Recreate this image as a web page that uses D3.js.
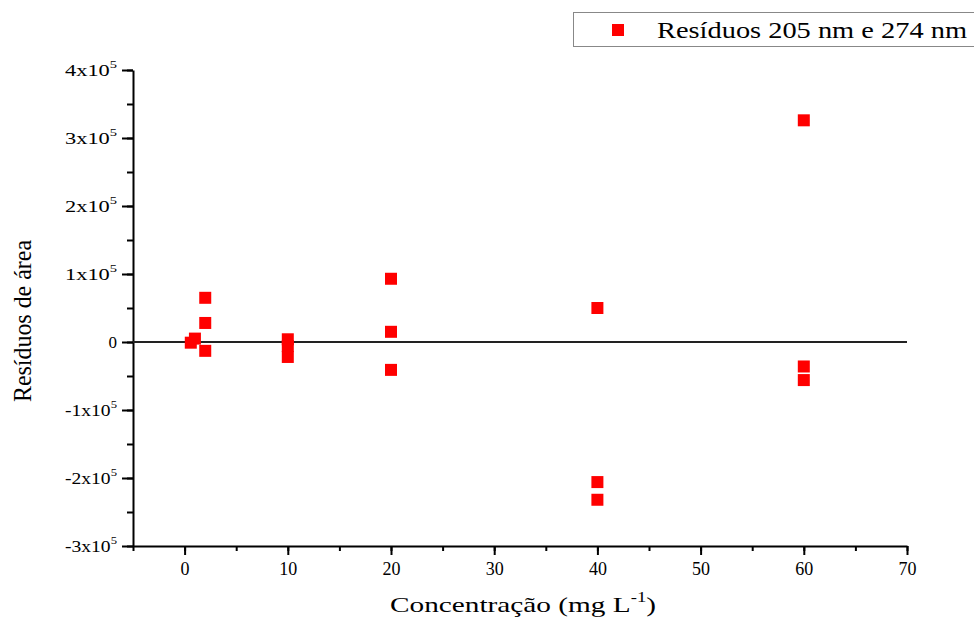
<!DOCTYPE html>
<html>
<head>
<meta charset="utf-8">
<script src="https://cdn.jsdelivr.net/npm/d3@7"></script>
<style>
  body { margin: 0; background: #fff; }
  svg { display: block; }
  svg text { font-family: "Liberation Serif", "DejaVu Serif", "Times New Roman", serif; fill: #000; }
</style>
</head>
<body>
<svg width="974" height="621"></svg>
<script>
// Residues by concentration (mg/L)
const concentrations = [0.6, 1, 2, 2, 2, 10, 10, 10, 20, 20, 20, 40, 40, 40, 60, 60, 60];
const residues = [-1000, 5000, 65000, 28000, -13000, 4000, -6000, -22000,
    93000, 15000, -41000, 50000, -206000, -232000, 326000, -36000, -56000];
const xTicks = [0, 10, 20, 30, 40, 50, 60, 70];
const yTicks = [-3, -2, -1, 0, 1, 2, 3, 4]; // x10^5
const seriesName = "Resíduos 205 nm e 274 nm";

const svg = d3.select("svg");
const serif = "Liberation Serif, DejaVu Serif, serif";

const x = d3.scaleLinear().domain([-5, 70]).range([133, 907]);
const y = d3.scaleLinear().domain([-3e5, 4e5]).range([546, 70]);

// minor ticks
svg.append("g")
    .attr("transform", `translate(0,${y(-3e5)})`)
    .call(d3.axisBottom(x).tickValues(d3.range(-5, 71, 5)).tickSize(5).tickFormat(""))
    .call(g => g.select(".domain").remove());
svg.append("g")
    .attr("transform", `translate(${x(-5)},0)`)
    .call(d3.axisLeft(y).tickValues(d3.range(-3e5, 4.01e5, 0.5e5)).tickSize(6).tickFormat(""))
    .call(g => g.select(".domain").remove());

// x axis
const xAxis = svg.append("g")
    .attr("transform", `translate(0,${y(-3e5)})`)
    .call(d3.axisBottom(x).tickValues(xTicks).tickSize(9).tickSizeOuter(0).tickPadding(7));
xAxis.attr("font-family", serif);
xAxis.selectAll("text").attr("font-size", 18);

// y axis
const yAxis = svg.append("g")
    .attr("transform", `translate(${x(-5)},0)`)
    .call(d3.axisLeft(y).tickValues(yTicks.map(d => d * 1e5)).tickSize(11).tickSizeOuter(0).tickFormat(""));
yAxis.attr("font-family", serif);
yAxis.selectAll(".tick").each(function(d) {
    const t = d3.select(this).append("text")
        .attr("x", -16).attr("dy", "0.35em")
        .attr("text-anchor", "end")
        .attr("font-size", 17);
    const v = Math.round(d / 1e5);
    if (v === 0) { t.text("0"); return; }
    t.attr("textLength", 52).attr("lengthAdjust", "spacingAndGlyphs");
    t.append("tspan").text(v + "x10");
    t.append("tspan").attr("font-size", 11).attr("dy", -8).text("5");
});
svg.selectAll(".domain, .tick line").attr("stroke", "#000").attr("stroke-width", 2);

// zero line
svg.append("line")
    .attr("x1", x(-5)).attr("x2", x(70))
    .attr("y1", y(0)).attr("y2", y(0))
    .attr("stroke", "#222").attr("stroke-width", 2);

// points
const pts = concentrations.map((c, i) => ({ c, r: residues[i] }));
const sq = 12;
svg.append("g").selectAll("rect")
    .data(pts)
    .join("rect")
    .attr("x", d => x(d.c) - sq / 2)
    .attr("y", d => y(d.r) - sq / 2)
    .attr("width", sq).attr("height", sq)
    .attr("fill", "#ff0000");

// axis titles
svg.append("text")
    .attr("transform", `translate(31,321) rotate(-90)`)
    .attr("text-anchor", "middle")
    .attr("font-size", 25)
    .attr("textLength", 162).attr("lengthAdjust", "spacingAndGlyphs")
    .text("Resíduos de área");

const xt = svg.append("text")
    .attr("x", 390).attr("y", 612)
    .attr("font-size", 22)
    .attr("textLength", 266).attr("lengthAdjust", "spacingAndGlyphs");
xt.append("tspan").text("Concentração (mg L");
xt.append("tspan").attr("font-size", 14).attr("dy", -10).text("-1");
xt.append("tspan").attr("dy", 10).text(")");

// legend
const lg = svg.append("g");
lg.append("rect")
    .attr("x", 573.5).attr("y", 12.5).attr("width", 420).attr("height", 34)
    .attr("fill", "#fff").attr("stroke", "#888").attr("stroke-width", 1);
lg.append("rect")
    .attr("x", 612).attr("y", 24).attr("width", 12).attr("height", 12)
    .attr("fill", "#ff0000");
lg.append("text")
    .attr("x", 657).attr("y", 38)
    .attr("font-size", 23)
    .attr("textLength", 310).attr("lengthAdjust", "spacingAndGlyphs")
    .text(seriesName);
</script>
</body>
</html>
